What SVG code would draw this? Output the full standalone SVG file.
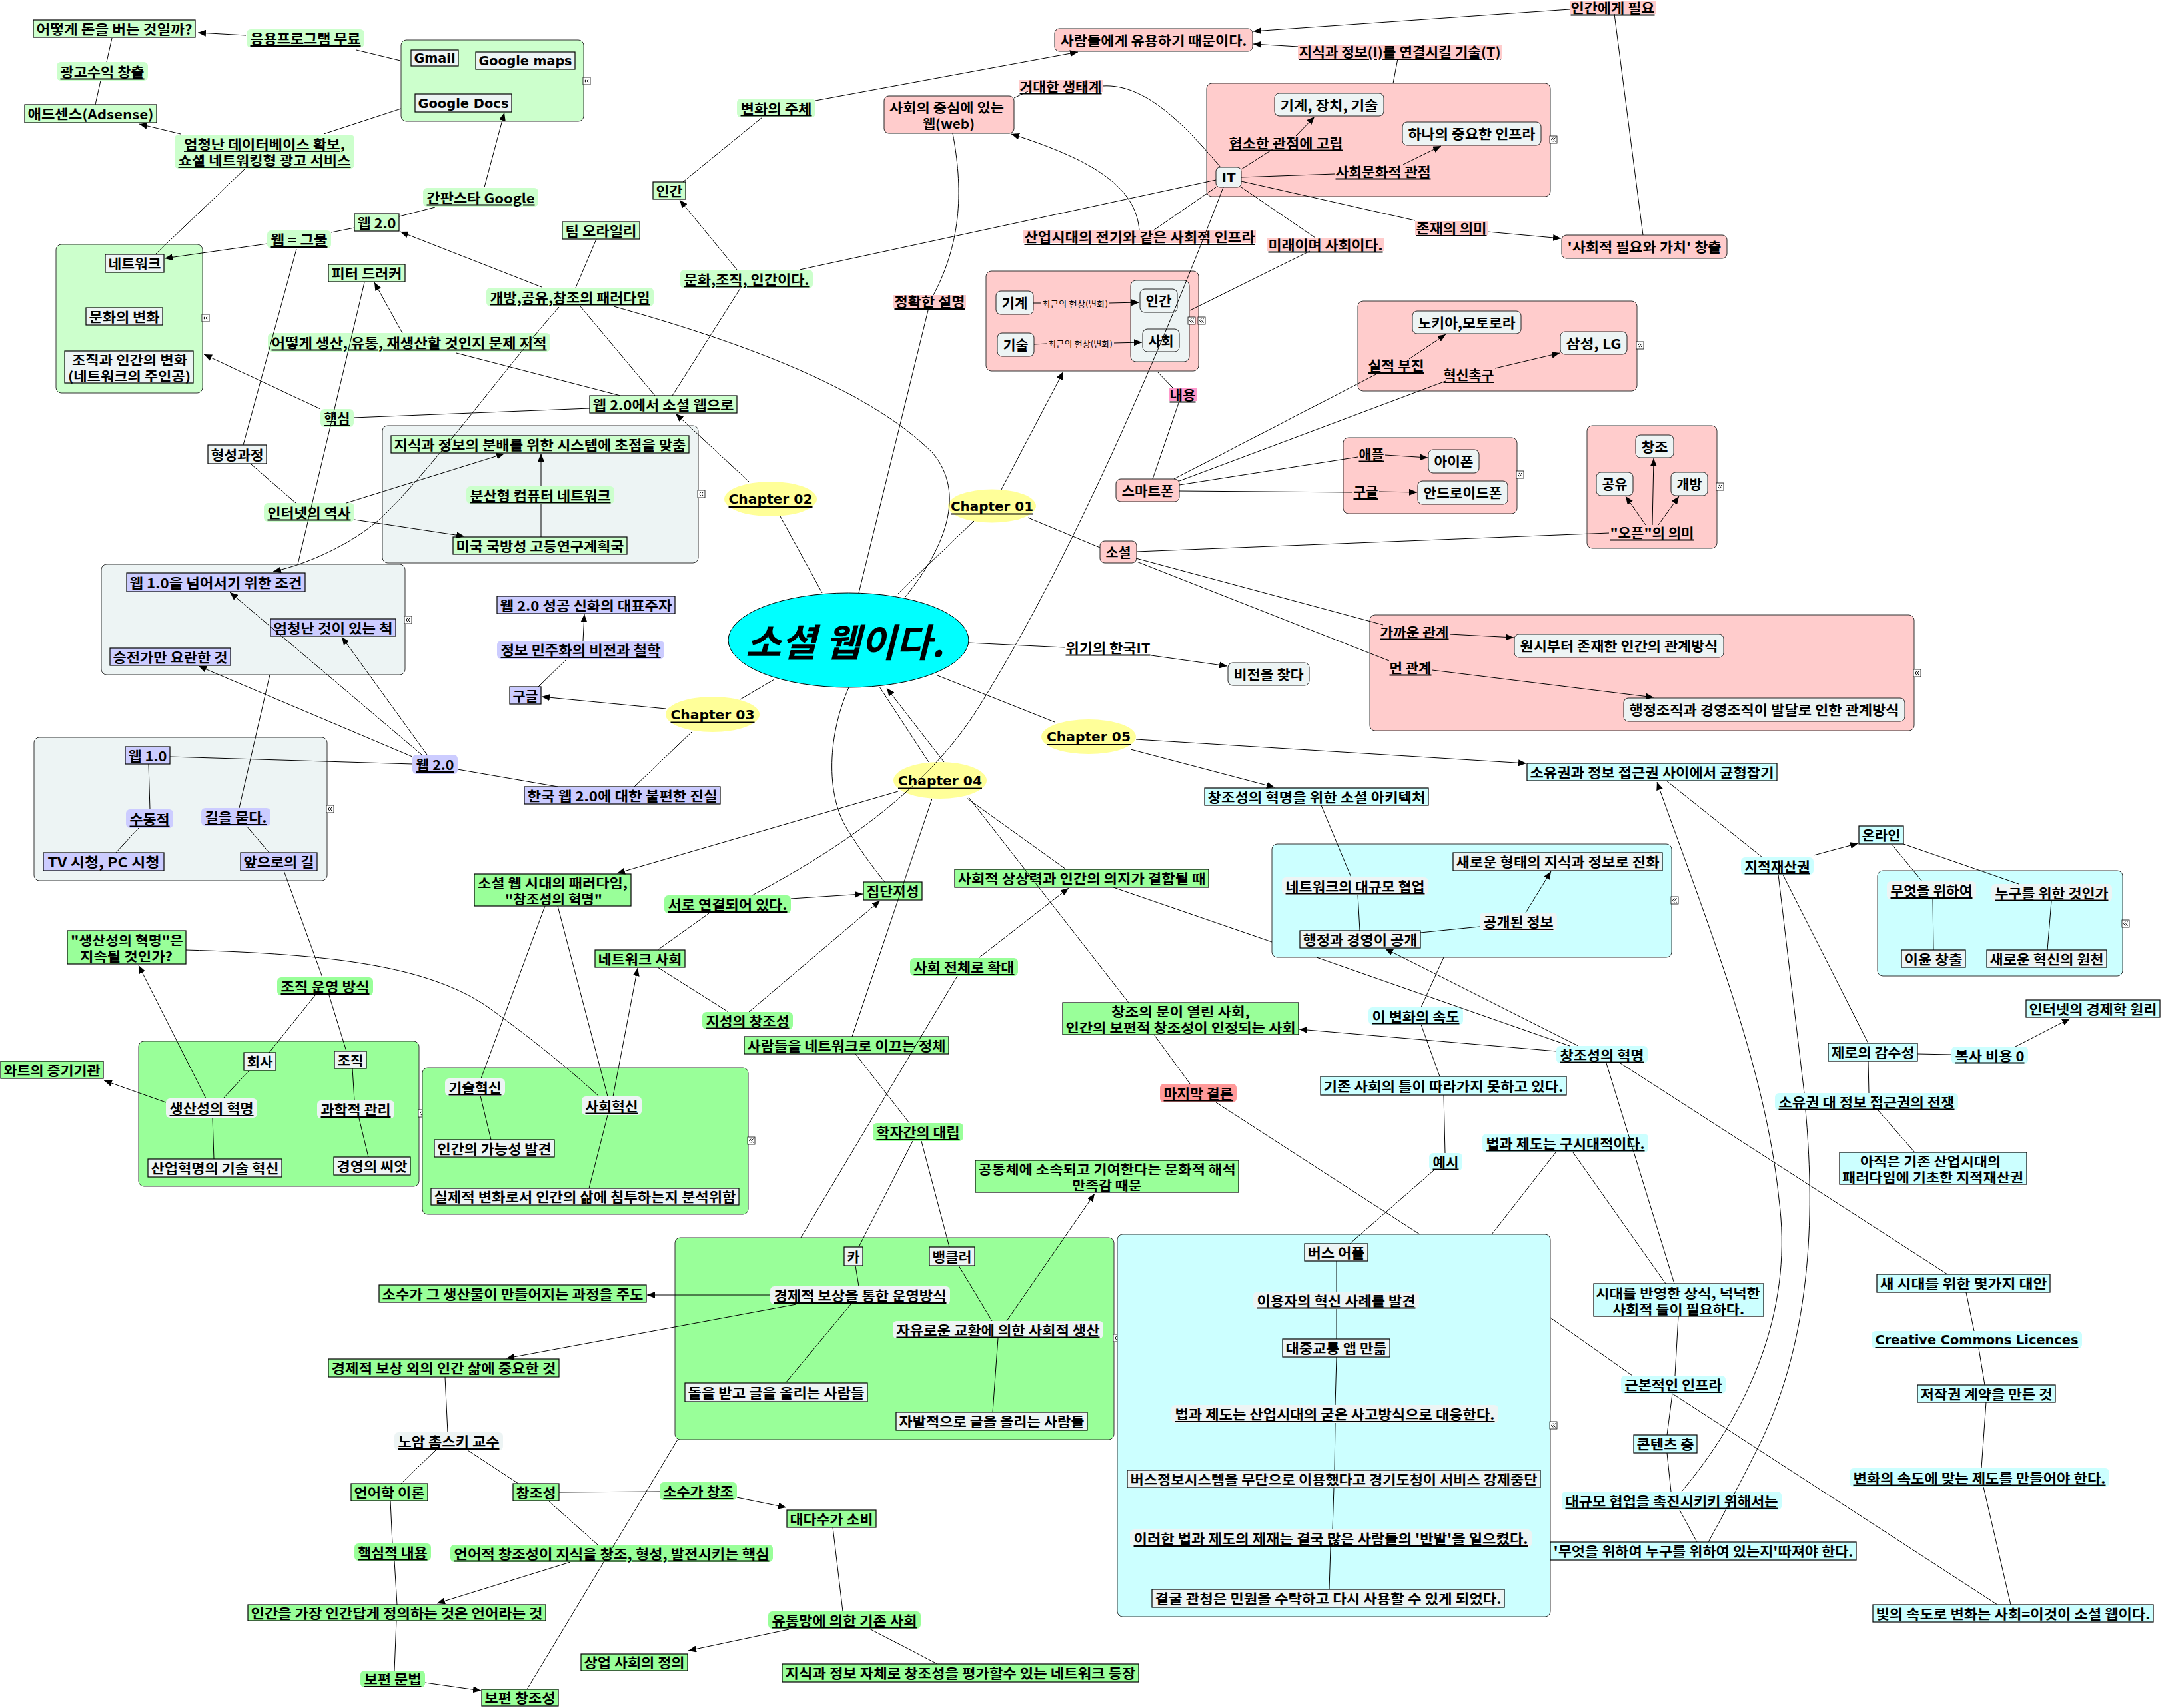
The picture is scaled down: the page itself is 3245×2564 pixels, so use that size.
<svg xmlns="http://www.w3.org/2000/svg" width="3245" height="2564" viewBox="0 0 3245 2564">
<style>
text{font-family:"Noto Sans CJK KR","Noto Sans CJK JP",sans-serif;font-weight:700;font-size:20px;fill:#000;text-anchor:middle;dominant-baseline:central}
.u{text-decoration:underline}
.lat{font-family:"DejaVu Sans","Noto Sans CJK KR",sans-serif}
.sm{font-size:13px;font-weight:400}
.big{font-size:58px;font-style:italic}
.two{font-size:19px}
.bx{stroke:#000;stroke-width:1.2}
.rb{stroke:#222;stroke-width:1}
.grp{stroke:#333;stroke-width:1}
.g1{fill:#ccffcc}.pa{fill:#edf4f4}.lv{fill:#ccccff}.g2{fill:#99ff99}.cy{fill:#ccffff}.pk{fill:#ffcccc}.wh{fill:#fff}.mg{fill:#ff99cc}.rd{fill:#ff9999}.yl{fill:#ffff99}
#connectors path{fill:none;stroke:#000;stroke-width:1}
</style>
<defs>
<marker id="ah" markerUnits="userSpaceOnUse" viewBox="0 0 12 10" refX="12" refY="5" markerWidth="12" markerHeight="10" orient="auto"><path d="M0,0L12,5L0,10z" fill="#000"/></marker>
<g id="col"><rect width="11" height="11" fill="#fff" stroke="#000" stroke-width="0.8"/><path d="M5.2,2.5L2.5,5.5L5.2,8.5M8.5,2.5L5.8,5.5L8.5,8.5" fill="none" stroke="#000" stroke-width="1"/></g>
</defs>
<rect width="3245" height="2564" fill="#fff"/>

<g id="nodes">
<g id="n_money"><rect class="bx g1" x="50" y="30" width="243" height="26"/><text x="171.5" y="43" textLength="234" lengthAdjust="spacingAndGlyphs">어떻게 돈을 버는 것일까?</text></g>
<g id="n_free"><rect class="g1" x="370" y="44" width="177" height="27" rx="6"/><text class="u" x="458.5" y="57.5" textLength="166" lengthAdjust="spacingAndGlyphs">응용프로그램 무료</text></g>
<g id="n_adrev"><rect class="g1" x="85" y="93" width="137" height="28" rx="6"/><text class="u" x="153.5" y="107" textLength="126" lengthAdjust="spacingAndGlyphs">광고수익 창출</text></g>
<g id="n_adsense"><rect class="bx g1" x="37" y="157" width="198" height="27"/><text x="136" y="170.5" textLength="189" lengthAdjust="spacingAndGlyphs">애드센스(Adsense)</text></g>
<g id="n_db"><rect class="g1" x="262" y="202" width="270" height="51" rx="6"/><text class="u two" x="397" y="215.5" textLength="242" lengthAdjust="spacingAndGlyphs">엄청난 데이터베이스 확보,</text><text class="u two" x="397" y="239.5" textLength="259" lengthAdjust="spacingAndGlyphs">쇼셜 네트워킹형 광고 서비스</text></g>
<g id="g_google"><rect class="grp g1" x="602" y="60" width="274" height="122" rx="8"/>
<g id="n_gmail"><rect class="bx pa" x="617" y="75" width="71" height="24"/><text class="lat" x="652.5" y="87" textLength="62" lengthAdjust="spacingAndGlyphs">Gmail</text></g>
<g id="n_gmaps"><rect class="bx pa" x="714" y="78" width="149" height="26"/><text class="lat" x="788.5" y="91" textLength="140" lengthAdjust="spacingAndGlyphs">Google maps</text></g>
<g id="n_gdocs"><rect class="bx pa" x="623" y="141" width="145" height="27"/><text class="lat" x="695.5" y="154.5" textLength="136" lengthAdjust="spacingAndGlyphs">Google Docs</text></g>
<use href="#col" x="875" y="116"/></g>
<g id="n_star"><rect class="g1" x="635" y="282" width="173" height="28" rx="6"/><text class="u" x="721.5" y="296" textLength="162" lengthAdjust="spacingAndGlyphs">간판스타 Google</text></g>
<g id="n_web20a"><rect class="bx g1" x="532" y="321" width="67" height="26"/><text x="565.5" y="334" textLength="58" lengthAdjust="spacingAndGlyphs">웹 2.0</text></g>
<g id="n_webnet"><rect class="g1" x="401" y="346" width="96" height="27" rx="6"/><text class="u" x="449" y="359.5" textLength="85" lengthAdjust="spacingAndGlyphs">웹 = 그물</text></g>
<g id="g_net"><rect class="grp g1" x="84" y="367" width="220" height="223" rx="8"/>
<g id="n_net"><rect class="bx pa" x="158" y="382" width="88" height="27"/><text x="202" y="395.5" textLength="79" lengthAdjust="spacingAndGlyphs">네트워크</text></g>
<g id="n_cultchg"><rect class="bx pa" x="129" y="462" width="115" height="26"/><text x="186.5" y="475" textLength="106" lengthAdjust="spacingAndGlyphs">문화의 변화</text></g>
<g id="n_orghum"><rect class="bx pa" x="97" y="527" width="193" height="48"/><text class="two" x="194.5" y="539" textLength="173" lengthAdjust="spacingAndGlyphs">조직과 인간의 변화</text><text class="two" x="194" y="563" textLength="184" lengthAdjust="spacingAndGlyphs">(네트워크의 주인공)</text></g>
<use href="#col" x="303" y="472"/></g>
<g id="n_drucker"><rect class="bx g1" x="493" y="397" width="115" height="26"/><text x="550.5" y="410" textLength="106" lengthAdjust="spacingAndGlyphs">피터 드러커</text></g>
<g id="n_how"><rect class="g1" x="402" y="500" width="424" height="28" rx="6"/><text class="u" x="614" y="514" textLength="413" lengthAdjust="spacingAndGlyphs">어떻게 생산, 유통, 재생산할 것인지 문제 지적</text></g>
<g id="n_core"><rect class="g1" x="481" y="614" width="50" height="27" rx="6"/><text class="u" x="506" y="627.5" textLength="39" lengthAdjust="spacingAndGlyphs">핵심</text></g>
<g id="n_form"><rect class="bx pa" x="312" y="668" width="88" height="28"/><text x="356" y="682" textLength="79" lengthAdjust="spacingAndGlyphs">형성과정</text></g>
<g id="n_inet"><rect class="g1" x="396" y="755" width="136" height="28" rx="6"/><text class="u" x="464" y="769" textLength="125" lengthAdjust="spacingAndGlyphs">인터넷의 역사</text></g>
<g id="g_dist"><rect class="grp pa" x="574" y="639" width="474" height="206" rx="8"/>
<g id="n_sys"><rect class="bx g1" x="587" y="654" width="447" height="26"/><text x="810.5" y="667" textLength="438" lengthAdjust="spacingAndGlyphs">지식과 정보의 분배를 위한 시스템에 초점을 맞춤</text></g>
<g id="n_distnet"><rect class="g1" x="700" y="730" width="222" height="26" rx="6"/><text class="u" x="811" y="743" textLength="211" lengthAdjust="spacingAndGlyphs">분산형 컴퓨터 네트워크</text></g>
<g id="n_darpa"><rect class="bx g1" x="680" y="806" width="261" height="26"/><text x="810.5" y="819" textLength="252" lengthAdjust="spacingAndGlyphs">미국 국방성 고등연구계획국</text></g>
<use href="#col" x="1047" y="736"/></g>
<g id="n_oreilly"><rect class="bx g1" x="844" y="333" width="116" height="26"/><text x="902" y="346" textLength="107" lengthAdjust="spacingAndGlyphs">팀 오라일리</text></g>
<g id="n_open"><rect class="g1" x="730" y="432" width="251" height="28" rx="6"/><text class="u" x="855.5" y="446" textLength="240" lengthAdjust="spacingAndGlyphs">개방,공유,창조의 패러다임</text></g>
<g id="n_w2s"><rect class="bx g1" x="885" y="594" width="221" height="26"/><text x="995.5" y="607" textLength="212" lengthAdjust="spacingAndGlyphs">웹 2.0에서 소셜 웹으로</text></g>
<g id="n_human"><rect class="bx g1" x="980" y="273" width="49" height="26"/><text x="1004.5" y="286" textLength="40" lengthAdjust="spacingAndGlyphs">인간</text></g>
<g id="n_agent"><rect class="g1" x="1106" y="148" width="118" height="28" rx="6"/><text class="u" x="1165" y="162" textLength="107" lengthAdjust="spacingAndGlyphs">변화의 주체</text></g>
<g id="n_culture"><rect class="g1" x="1021" y="405" width="199" height="28" rx="6"/><text class="u" x="1120.5" y="419" textLength="188" lengthAdjust="spacingAndGlyphs">문화,조직, 인간이다.</text></g>
<g id="ch02"><ellipse class="yl" cx="1156.5" cy="749" rx="69.5" ry="26"/><text class="u lat" x="1156.5" y="749" textLength="126" lengthAdjust="spacingAndGlyphs">Chapter 02</text></g>

<g id="n_useful"><rect class="rb pk" x="1583" y="43" width="297" height="34" rx="7"/><text x="1731.5" y="60" textLength="280" lengthAdjust="spacingAndGlyphs">사람들에게 유용하기 때문이다.</text></g>
<g id="n_needed"><rect class="pk" x="2356" y="1" width="129" height="20"/><text class="u" x="2420.5" y="11" textLength="126" lengthAdjust="spacingAndGlyphs">인간에게 필요</text></g>
<g id="n_connect"><rect class="pk" x="1948" y="67" width="306" height="21"/><text class="u" x="2101" y="77.5" textLength="303" lengthAdjust="spacingAndGlyphs">지식과 정보(I)를 연결시킬 기술(T)</text></g>
<g id="n_centerweb"><rect class="rb pk" x="1327" y="144" width="195" height="56" rx="7"/><text class="two" x="1421" y="160" textLength="172" lengthAdjust="spacingAndGlyphs">사회의 중심에 있는</text><text class="two" x="1424" y="184" textLength="78" lengthAdjust="spacingAndGlyphs">웹(web)</text></g>
<g id="n_eco"><rect class="pk" x="1529" y="120" width="126" height="18"/><text class="u" x="1592" y="129" textLength="123" lengthAdjust="spacingAndGlyphs">거대한 생태계</text></g>
<g id="g_it"><rect class="grp pk" x="1811" y="125" width="516" height="170" rx="8"/>
<g id="n_mach3"><rect class="rb pa" x="1913" y="140" width="164" height="34" rx="7"/><text x="1995" y="157" textLength="147" lengthAdjust="spacingAndGlyphs">기계, 장치, 기술</text></g>
<g id="n_oneinfra"><rect class="rb pa" x="2105" y="183" width="208" height="35" rx="7"/><text x="2209" y="200.5" textLength="191" lengthAdjust="spacingAndGlyphs">하나의 중요한 인프라</text></g>
<g id="n_narrow"><text class="u" x="1930" y="214" textLength="171" lengthAdjust="spacingAndGlyphs">협소한 관점에 고립</text></g>
<g id="n_sociocult"><text class="u" x="2076" y="257" textLength="143" lengthAdjust="spacingAndGlyphs">사회문화적 관점</text></g>
<g id="n_it"><rect class="rb pa" x="1825" y="251" width="38" height="30" rx="6"/><text class="lat" x="1844" y="266" textLength="21" lengthAdjust="spacingAndGlyphs">IT</text></g>
<use href="#col" x="2326" y="204"/></g>
<g id="n_exist"><rect class="pk" x="2124" y="332" width="109" height="21"/><text class="u" x="2178.5" y="342.5" textLength="106" lengthAdjust="spacingAndGlyphs">존재의 의미</text></g>
<g id="n_socval"><rect class="rb pk" x="2344" y="353" width="248" height="35" rx="7"/><text x="2468" y="370.5" textLength="231" lengthAdjust="spacingAndGlyphs">'사회적 필요와 가치' 창출</text></g>
<g id="n_future"><rect class="pk" x="1902" y="357" width="175" height="20"/><text class="u" x="1989.5" y="367" textLength="172" lengthAdjust="spacingAndGlyphs">미래이며 사회이다.</text></g>
<g id="n_infra"><rect class="pk" x="1536" y="346" width="349" height="19"/><text class="u" x="1710.5" y="355.5" textLength="346" lengthAdjust="spacingAndGlyphs">산업시대의 전기와 같은 사회적 인프라</text></g>
<g id="n_exact"><rect class="pk" x="1341" y="443" width="109" height="19"/><text class="u" x="1395.5" y="452.5" textLength="106" lengthAdjust="spacingAndGlyphs">정확한 설명</text></g>
<g id="g_machine"><rect class="grp pk" x="1480" y="407" width="319" height="150" rx="8"/>
<rect class="grp pa" x="1697" y="421" width="88" height="122" rx="8"/>
<g id="n_machine"><rect class="rb pa" x="1495" y="437" width="56" height="35" rx="7"/><text x="1523" y="454.5" textLength="39" lengthAdjust="spacingAndGlyphs">기계</text></g>
<g id="n_tech"><rect class="rb pa" x="1497" y="500" width="55" height="35" rx="7"/><text x="1524.5" y="517.5" textLength="38" lengthAdjust="spacingAndGlyphs">기술</text></g>
<g id="n_human2"><rect class="rb pa" x="1711" y="434" width="56" height="35" rx="7"/><text x="1739" y="451.5" textLength="39" lengthAdjust="spacingAndGlyphs">인간</text></g>
<g id="n_society"><rect class="rb pa" x="1715" y="494" width="55" height="34" rx="7"/><text x="1742.5" y="511" textLength="38" lengthAdjust="spacingAndGlyphs">사회</text></g>
<text class="sm" x="1613.5" y="455" textLength="99" lengthAdjust="spacingAndGlyphs">최근의 현상(변화)</text>
<text class="sm" x="1621.5" y="515" textLength="97" lengthAdjust="spacingAndGlyphs">최근의 현상(변화)</text>
<use href="#col" x="1783" y="476"/><use href="#col" x="1798" y="476"/></g>
<g id="n_content"><rect class="mg" x="1754" y="582" width="42" height="20"/><text class="u" x="1775" y="592" textLength="39" lengthAdjust="spacingAndGlyphs">내용</text></g>
<g id="ch01"><ellipse class="yl" cx="1489" cy="759.5" rx="66" ry="25"/><text class="u lat" x="1489" y="759.5" textLength="124" lengthAdjust="spacingAndGlyphs">Chapter 01</text></g>
<g id="g_nokia"><rect class="grp pk" x="2038" y="452" width="419" height="135" rx="8"/>
<g id="n_nokia"><rect class="rb pa" x="2120" y="467" width="163" height="34" rx="7"/><text x="2201.5" y="484" textLength="146" lengthAdjust="spacingAndGlyphs">노키아,모토로라</text></g>
<g id="n_samsung"><rect class="rb pa" x="2342" y="498" width="100" height="34" rx="7"/><text x="2392" y="515" textLength="83" lengthAdjust="spacingAndGlyphs">삼성, LG</text></g>
<g id="n_perf"><text class="u" x="2095.5" y="548.5" textLength="84" lengthAdjust="spacingAndGlyphs">실적 부진</text></g>
<g id="n_urge"><text class="u" x="2204.5" y="562.5" textLength="76" lengthAdjust="spacingAndGlyphs">혁신촉구</text></g>
<use href="#col" x="2456" y="513"/></g>
<g id="n_smart"><rect class="rb pk" x="1675" y="719" width="95" height="34" rx="7"/><text x="1722.5" y="736" textLength="78" lengthAdjust="spacingAndGlyphs">스마트폰</text></g>
<g id="g_apple"><rect class="grp pk" x="2016" y="657" width="261" height="114" rx="8"/>
<g id="n_apple"><text class="u" x="2058.5" y="681" textLength="38" lengthAdjust="spacingAndGlyphs">애플</text></g>
<g id="n_iphone"><rect class="rb pa" x="2144" y="675" width="76" height="35" rx="7"/><text x="2182" y="692.5" textLength="59" lengthAdjust="spacingAndGlyphs">아이폰</text></g>
<g id="n_googleL"><text class="u" x="2050" y="737.5" textLength="37" lengthAdjust="spacingAndGlyphs">구글</text></g>
<g id="n_android"><rect class="rb pa" x="2128" y="722" width="135" height="35" rx="7"/><text x="2195.5" y="739.5" textLength="118" lengthAdjust="spacingAndGlyphs">안드로이드폰</text></g>
<use href="#col" x="2276" y="707"/></g>
<g id="g_open"><rect class="grp pk" x="2382" y="639" width="195" height="184" rx="8"/>
<g id="n_create"><rect class="rb pa" x="2455" y="653" width="57" height="34" rx="7"/><text x="2483.5" y="670" textLength="40" lengthAdjust="spacingAndGlyphs">창조</text></g>
<g id="n_share"><rect class="rb pa" x="2396" y="709" width="55" height="35" rx="7"/><text x="2423.5" y="726.5" textLength="38" lengthAdjust="spacingAndGlyphs">공유</text></g>
<g id="n_openn"><rect class="rb pa" x="2508" y="709" width="55" height="35" rx="7"/><text x="2535.5" y="726.5" textLength="38" lengthAdjust="spacingAndGlyphs">개방</text></g>
<g id="n_meaning"><text class="u" x="2479.5" y="799" textLength="126" lengthAdjust="spacingAndGlyphs">"오픈"의 의미</text></g>
<use href="#col" x="2576" y="725"/></g>
<g id="n_social"><rect class="rb pk" x="1651" y="812" width="55" height="33" rx="7"/><text x="1678.5" y="828.5" textLength="38" lengthAdjust="spacingAndGlyphs">소셜</text></g>
<g id="g_rel"><rect class="grp pk" x="2056" y="923" width="817" height="174" rx="8"/>
<g id="n_close"><text class="u" x="2123" y="948" textLength="103" lengthAdjust="spacingAndGlyphs">가까운 관계</text></g>
<g id="n_far"><text class="u" x="2117" y="1002" textLength="63" lengthAdjust="spacingAndGlyphs">먼 관계</text></g>
<g id="n_primitive"><rect class="rb pa" x="2273" y="952" width="314" height="35" rx="7"/><text x="2430" y="969.5" textLength="297" lengthAdjust="spacingAndGlyphs">원시부터 존재한 인간의 관계방식</text></g>
<g id="n_admin"><rect class="rb pa" x="2437" y="1048" width="422" height="35" rx="7"/><text x="2648" y="1065.5" textLength="405" lengthAdjust="spacingAndGlyphs">행정조직과 경영조직이 발달로 인한 관계방식</text></g>
<use href="#col" x="2872" y="1005"/></g>
<g id="n_crisis"><text class="u" x="1663" y="972" textLength="127" lengthAdjust="spacingAndGlyphs">위기의 한국IT</text></g>
<g id="n_vision"><rect class="rb pa" x="1843" y="995" width="122" height="34" rx="7"/><text x="1904" y="1012" textLength="105" lengthAdjust="spacingAndGlyphs">비전을 찾다</text></g>

<g id="center"><ellipse cx="1273.5" cy="961" rx="180.5" ry="71" fill="#00ffff" stroke="#000" stroke-width="1"/><text class="big" x="1268" y="961" textLength="298" lengthAdjust="spacingAndGlyphs">소셜 웹이다.</text></g>

<g id="g_beyond"><rect class="grp pa" x="152" y="847" width="456" height="166" rx="8"/>
<g id="n_cond"><rect class="bx lv" x="190" y="860" width="268" height="28"/><text x="324" y="874" textLength="259" lengthAdjust="spacingAndGlyphs">웹 1.0을 넘어서기 위한 조건</text></g>
<g id="n_pretend"><rect class="bx lv" x="406" y="929" width="188" height="26"/><text x="500" y="942" textLength="179" lengthAdjust="spacingAndGlyphs">엄청난 것이 있는 척</text></g>
<g id="n_noisy"><rect class="bx lv" x="165" y="973" width="181" height="26"/><text x="255.5" y="986" textLength="172" lengthAdjust="spacingAndGlyphs">승전가만 요란한 것</text></g>
<use href="#col" x="607" y="925"/></g>
<g id="n_success"><rect class="bx lv" x="746" y="895" width="267" height="26"/><text x="879.5" y="908" textLength="258" lengthAdjust="spacingAndGlyphs">웹 2.0 성공 신화의 대표주자</text></g>
<g id="n_demo"><rect class="lv" x="746" y="962" width="251" height="27" rx="6"/><text class="u" x="871.5" y="975.5" textLength="240" lengthAdjust="spacingAndGlyphs">정보 민주화의 비전과 철학</text></g>
<g id="n_google2"><rect class="bx lv" x="765" y="1031" width="47" height="26"/><text x="788.5" y="1044" textLength="38" lengthAdjust="spacingAndGlyphs">구글</text></g>
<g id="ch03"><ellipse class="yl" cx="1069.5" cy="1072.5" rx="70.5" ry="26.5"/><text class="u lat" x="1069.5" y="1072.5" textLength="126" lengthAdjust="spacingAndGlyphs">Chapter 03</text></g>
<g id="n_web20b"><rect class="lv" x="619" y="1133" width="68" height="29" rx="6"/><text class="u" x="653" y="1147.5" textLength="57" lengthAdjust="spacingAndGlyphs">웹 2.0</text></g>
<g id="n_korea"><rect class="bx lv" x="787" y="1181" width="294" height="26"/><text x="934" y="1194" textLength="285" lengthAdjust="spacingAndGlyphs">한국 웹 2.0에 대한 불편한 진실</text></g>
<g id="g_web10"><rect class="grp pa" x="51" y="1107" width="440" height="215" rx="8"/>
<g id="n_w10"><rect class="bx lv" x="188" y="1121" width="67" height="26"/><text x="221.5" y="1134" textLength="58" lengthAdjust="spacingAndGlyphs">웹 1.0</text></g>
<g id="n_passive"><rect class="lv" x="189" y="1215" width="71" height="28" rx="6"/><text class="u" x="224.5" y="1229" textLength="60" lengthAdjust="spacingAndGlyphs">수동적</text></g>
<g id="n_ask"><rect class="lv" x="302" y="1213" width="104" height="27" rx="6"/><text class="u" x="354" y="1226.5" textLength="93" lengthAdjust="spacingAndGlyphs">길을 묻다.</text></g>
<g id="n_tv"><rect class="bx lv" x="65" y="1280" width="181" height="27"/><text x="155.5" y="1293.5" textLength="168" lengthAdjust="spacingAndGlyphs">TV 시청, PC 시청</text></g>
<g id="n_road"><rect class="bx lv" x="361" y="1280" width="115" height="27"/><text x="418.5" y="1293.5" textLength="106" lengthAdjust="spacingAndGlyphs">앞으로의 길</text></g>
<use href="#col" x="490" y="1209"/></g>

<g id="n_prodq"><rect class="bx g2" x="101" y="1397" width="178" height="50"/><text class="two" x="190.5" y="1410" textLength="169" lengthAdjust="spacingAndGlyphs">"생산성의 혁명"은</text><text class="two" x="189.5" y="1434" textLength="139" lengthAdjust="spacingAndGlyphs">지속될 것인가?</text></g>
<g id="n_orgway"><rect class="g2" x="416" y="1467" width="144" height="27" rx="6"/><text class="u" x="488" y="1480.5" textLength="133" lengthAdjust="spacingAndGlyphs">조직 운영 방식</text></g>
<g id="n_watt"><rect class="bx g2" x="1" y="1593" width="154" height="26"/><text x="78" y="1606" textLength="145" lengthAdjust="spacingAndGlyphs">와트의 증기기관</text></g>
<g id="g_prod"><rect class="grp g2" x="208" y="1563" width="421" height="218" rx="8"/>
<g id="n_company"><rect class="bx pa" x="366" y="1580" width="48" height="27"/><text x="390" y="1593.5" textLength="39" lengthAdjust="spacingAndGlyphs">회사</text></g>
<g id="n_org"><rect class="bx pa" x="502" y="1578" width="48" height="26"/><text x="526" y="1591" textLength="39" lengthAdjust="spacingAndGlyphs">조직</text></g>
<g id="n_prodrev"><rect class="pa" x="249" y="1649" width="137" height="29" rx="6"/><text class="u" x="317.5" y="1663.5" textLength="126" lengthAdjust="spacingAndGlyphs">생산성의 혁명</text></g>
<g id="n_sci"><rect class="pa" x="476" y="1652" width="116" height="27" rx="6"/><text class="u" x="534" y="1665.5" textLength="105" lengthAdjust="spacingAndGlyphs">과학적 관리</text></g>
<g id="n_indrev"><rect class="bx pa" x="222" y="1740" width="201" height="27"/><text x="322.5" y="1753.5" textLength="192" lengthAdjust="spacingAndGlyphs">산업혁명의 기술 혁신</text></g>
<g id="n_mgmt"><rect class="bx pa" x="501" y="1737" width="115" height="27"/><text x="558.5" y="1750.5" textLength="106" lengthAdjust="spacingAndGlyphs">경영의 씨앗</text></g>
<use href="#col" x="628" y="1666"/></g>
<g id="n_paradigm"><rect class="bx g2" x="712" y="1312" width="235" height="48"/><text class="two" x="829.5" y="1324" textLength="225" lengthAdjust="spacingAndGlyphs">소셜 웹 시대의 패러다임,</text><text class="two" x="831" y="1348" textLength="146" lengthAdjust="spacingAndGlyphs">"창조성의 혁명"</text></g>
<g id="g_innov"><rect class="grp g2" x="634" y="1603" width="489" height="220" rx="8"/>
<g id="n_techinno"><rect class="pa" x="668" y="1619" width="90" height="26" rx="6"/><text class="u" x="713" y="1632" textLength="79" lengthAdjust="spacingAndGlyphs">기술혁신</text></g>
<g id="n_socinno"><rect class="pa" x="873" y="1646" width="90" height="28" rx="6"/><text class="u" x="918" y="1660" textLength="79" lengthAdjust="spacingAndGlyphs">사회혁신</text></g>
<g id="n_possib"><rect class="bx pa" x="652" y="1711" width="180" height="26"/><text x="742" y="1724" textLength="171" lengthAdjust="spacingAndGlyphs">인간의 가능성 발견</text></g>
<g id="n_actual"><rect class="bx pa" x="647" y="1784" width="462" height="25"/><text x="878" y="1796.5" textLength="453" lengthAdjust="spacingAndGlyphs">실제적 변화로서 인간의 삶에 침투하는지 분석위함</text></g>
<use href="#col" x="1122" y="1707"/></g>
<g id="n_connected"><rect class="g2" x="997" y="1344" width="190" height="27" rx="6"/><text class="u" x="1092" y="1357.5" textLength="179" lengthAdjust="spacingAndGlyphs">서로 연결되어 있다.</text></g>
<g id="n_collective"><rect class="bx g2" x="1296" y="1324" width="88" height="27"/><text x="1340" y="1337.5" textLength="79" lengthAdjust="spacingAndGlyphs">집단지성</text></g>
<g id="n_netsoc"><rect class="bx g2" x="893" y="1426" width="135" height="26"/><text x="960.5" y="1439" textLength="126" lengthAdjust="spacingAndGlyphs">네트워크 사회</text></g>
<g id="n_intcreat"><rect class="g2" x="1054" y="1519" width="136" height="26" rx="6"/><text class="u" x="1122" y="1532" textLength="125" lengthAdjust="spacingAndGlyphs">지성의 창조성</text></g>
<g id="n_people"><rect class="bx g2" x="1117" y="1556" width="307" height="26"/><text x="1270.5" y="1569" textLength="298" lengthAdjust="spacingAndGlyphs">사람들을 네트워크로 이끄는 정체</text></g>
<g id="ch04"><ellipse class="yl" cx="1411" cy="1171.5" rx="70" ry="27.5"/><text class="u lat" x="1411" y="1171.5" textLength="126" lengthAdjust="spacingAndGlyphs">Chapter 04</text></g>
<g id="n_imag"><rect class="bx g2" x="1433" y="1305" width="381" height="27"/><text x="1623.5" y="1318.5" textLength="372" lengthAdjust="spacingAndGlyphs">사회적 상상력과 인간의 의지가 결합될 때</text></g>
<g id="n_expand"><rect class="g2" x="1366" y="1438" width="162" height="27" rx="6"/><text class="u" x="1447" y="1451.5" textLength="151" lengthAdjust="spacingAndGlyphs">사회 전체로 확대</text></g>
<g id="n_opendoor"><rect class="bx g2" x="1595" y="1505" width="354" height="48"/><text class="two" x="1772" y="1517" textLength="208" lengthAdjust="spacingAndGlyphs">창조의 문이 열린 사회,</text><text class="two" x="1772" y="1541" textLength="345" lengthAdjust="spacingAndGlyphs">인간의 보편적 창조성이 인정되는 사회</text></g>
<g id="n_final"><rect class="rd" x="1741" y="1627" width="115" height="28" rx="6"/><text class="u" x="1798.5" y="1641" textLength="104" lengthAdjust="spacingAndGlyphs">마지막 결론</text></g>
<g id="n_scholars"><rect class="g2" x="1310" y="1686" width="136" height="27" rx="6"/><text class="u" x="1378" y="1699.5" textLength="125" lengthAdjust="spacingAndGlyphs">학자간의 대립</text></g>
<g id="n_community"><rect class="bx g2" x="1464" y="1742" width="395" height="48"/><text class="two" x="1661.5" y="1754" textLength="386" lengthAdjust="spacingAndGlyphs">공동체에 소속되고 기여한다는 문화적 해석</text><text class="two" x="1661.5" y="1778" textLength="104" lengthAdjust="spacingAndGlyphs">만족감 때문</text></g>
<g id="g_econ"><rect class="grp g2" x="1013" y="1858" width="659" height="303" rx="8"/>
<g id="n_car"><rect class="bx pa" x="1267" y="1872" width="28" height="28"/><text x="1281" y="1886" textLength="19" lengthAdjust="spacingAndGlyphs">카</text></g>
<g id="n_benkler"><rect class="bx pa" x="1395" y="1872" width="68" height="28"/><text x="1429" y="1886" textLength="59" lengthAdjust="spacingAndGlyphs">뱅클러</text></g>
<g id="n_econway"><rect class="pa" x="1156" y="1931" width="270" height="27" rx="6"/><text class="u" x="1291" y="1944.5" textLength="259" lengthAdjust="spacingAndGlyphs">경제적 보상을 통한 운영방식</text></g>
<g id="n_freeex"><rect class="pa" x="1340" y="1983" width="316" height="26" rx="6"/><text class="u" x="1498" y="1996" textLength="305" lengthAdjust="spacingAndGlyphs">자유로운 교환에 의한 사회적 생산</text></g>
<g id="n_paidpost"><rect class="bx pa" x="1028" y="2076" width="274" height="28"/><text x="1165" y="2090" textLength="265" lengthAdjust="spacingAndGlyphs">돌을 받고 글을 올리는 사람들</text></g>
<g id="n_volpost"><rect class="bx pa" x="1345" y="2120" width="287" height="27"/><text x="1488.5" y="2133.5" textLength="278" lengthAdjust="spacingAndGlyphs">자발적으로 글을 올리는 사람들</text></g>
<use href="#col" x="1671" y="2003"/></g>
<g id="n_few"><rect class="bx g2" x="569" y="1929" width="401" height="26"/><text x="769.5" y="1942" textLength="392" lengthAdjust="spacingAndGlyphs">소수가 그 생산물이 만들어지는 과정을 주도</text></g>
<g id="n_besides"><rect class="bx g2" x="493" y="2040" width="346" height="27"/><text x="666" y="2053.5" textLength="337" lengthAdjust="spacingAndGlyphs">경제적 보상 외의 인간 삶에 중요한 것</text></g>
<g id="n_chomsky"><rect class="pa" x="592" y="2150" width="163" height="27" rx="6"/><text class="u" x="673.5" y="2163.5" textLength="152" lengthAdjust="spacingAndGlyphs">노암 촘스키 교수</text></g>
<g id="n_ling"><rect class="bx g2" x="527" y="2227" width="115" height="26"/><text x="584.5" y="2240" textLength="106" lengthAdjust="spacingAndGlyphs">언어학 이론</text></g>
<g id="n_creat"><rect class="bx g2" x="770" y="2227" width="69" height="26"/><text x="804.5" y="2240" textLength="60" lengthAdjust="spacingAndGlyphs">창조성</text></g>
<g id="n_fewcreate"><rect class="g2" x="990" y="2225" width="116" height="27" rx="6"/><text class="u" x="1048" y="2238.5" textLength="105" lengthAdjust="spacingAndGlyphs">소수가 창조</text></g>
<g id="n_many"><rect class="bx g2" x="1181" y="2267" width="134" height="26"/><text x="1248" y="2280" textLength="125" lengthAdjust="spacingAndGlyphs">대다수가 소비</text></g>
<g id="n_core2"><rect class="g2" x="532" y="2317" width="115" height="26" rx="6"/><text class="u" x="589.5" y="2330" textLength="104" lengthAdjust="spacingAndGlyphs">핵심적 내용</text></g>
<g id="n_lingcreat"><rect class="g2" x="676" y="2319" width="484" height="26" rx="6"/><text class="u" x="918" y="2332" textLength="473" lengthAdjust="spacingAndGlyphs">언어적 창조성이 지식을 창조, 형성, 발전시키는 핵심</text></g>
<g id="n_define"><rect class="bx g2" x="372" y="2409" width="447" height="24"/><text x="595.5" y="2421" textLength="438" lengthAdjust="spacingAndGlyphs">인간을 가장 인간답게 정의하는 것은 언어라는 것</text></g>
<g id="n_distrib"><rect class="g2" x="1153" y="2419" width="229" height="26" rx="6"/><text class="u" x="1267.5" y="2432" textLength="218" lengthAdjust="spacingAndGlyphs">유통망에 의한 기존 사회</text></g>
<g id="n_commerce"><rect class="bx g2" x="872" y="2483" width="160" height="25"/><text x="952" y="2495.5" textLength="151" lengthAdjust="spacingAndGlyphs">상업 사회의 정의</text></g>
<g id="n_knownet"><rect class="bx g2" x="1174" y="2498" width="535" height="27"/><text x="1441.5" y="2511.5" textLength="526" lengthAdjust="spacingAndGlyphs">지식과 정보 자체로 창조성을 평가할수 있는 네트워크 등장</text></g>
<g id="n_ugram"><rect class="g2" x="541" y="2508" width="97" height="25" rx="6"/><text class="u" x="589.5" y="2520.5" textLength="86" lengthAdjust="spacingAndGlyphs">보편 문법</text></g>
<g id="n_ucreat"><rect class="bx g2" x="723" y="2536" width="115" height="25"/><text x="780.5" y="2548.5" textLength="106" lengthAdjust="spacingAndGlyphs">보편 창조성</text></g>

<g id="ch05"><ellipse class="yl" cx="1634" cy="1106" rx="71" ry="26"/><text class="u lat" x="1634" y="1106" textLength="126" lengthAdjust="spacingAndGlyphs">Chapter 05</text></g>
<g id="n_balance"><rect class="bx cy" x="2292" y="1146" width="375" height="26"/><text x="2479.5" y="1159" textLength="366" lengthAdjust="spacingAndGlyphs">소유권과 정보 접근권 사이에서 균형잡기</text></g>
<g id="n_arch"><rect class="bx cy" x="1808" y="1183" width="336" height="26"/><text x="1976" y="1196" textLength="327" lengthAdjust="spacingAndGlyphs">창조성의 혁명을 위한 소셜 아키텍처</text></g>
<g id="g_collab"><rect class="grp cy" x="1909" y="1267" width="600" height="170" rx="8"/>
<g id="n_newform"><rect class="bx pa" x="2181" y="1280" width="314" height="27"/><text x="2338" y="1293.5" textLength="305" lengthAdjust="spacingAndGlyphs">새로운 형태의 지식과 정보로 진화</text></g>
<g id="n_masscollab"><rect class="pa" x="1924" y="1317" width="220" height="26" rx="6"/><text class="u" x="2034" y="1330" textLength="209" lengthAdjust="spacingAndGlyphs">네트워크의 대규모 협업</text></g>
<g id="n_pubinfo"><rect class="pa" x="2221" y="1370" width="116" height="27" rx="6"/><text class="u" x="2279" y="1383.5" textLength="105" lengthAdjust="spacingAndGlyphs">공개된 정보</text></g>
<g id="n_adminopen"><rect class="bx pa" x="1951" y="1397" width="181" height="26"/><text x="2041.5" y="1410" textLength="172" lengthAdjust="spacingAndGlyphs">행정과 경영이 공개</text></g>
<use href="#col" x="2508" y="1346"/></g>
<g id="n_speed"><rect class="cy" x="2054" y="1512" width="142" height="26" rx="6"/><text class="u" x="2125" y="1525" textLength="131" lengthAdjust="spacingAndGlyphs">이 변화의 속도</text></g>
<g id="n_crev"><rect class="cy" x="2336" y="1570" width="137" height="26" rx="6"/><text class="u" x="2404.5" y="1583" textLength="126" lengthAdjust="spacingAndGlyphs">창조성의 혁명</text></g>
<g id="n_frame"><rect class="bx cy" x="1982" y="1616" width="369" height="28"/><text x="2166.5" y="1630" textLength="360" lengthAdjust="spacingAndGlyphs">기존 사회의 틀이 따라가지 못하고 있다.</text></g>
<g id="n_ip"><rect class="cy" x="2613" y="1287" width="109" height="26" rx="6"/><text class="u" x="2667.5" y="1300" textLength="98" lengthAdjust="spacingAndGlyphs">지적재산권</text></g>
<g id="n_online"><rect class="bx cy" x="2790" y="1240" width="67" height="27"/><text x="2823.5" y="1253.5" textLength="58" lengthAdjust="spacingAndGlyphs">온라인</text></g>
<g id="g_online"><rect class="grp cy" x="2818" y="1307" width="368" height="158" rx="8"/>
<g id="n_forwhat"><rect class="pa" x="2832" y="1323" width="134" height="27" rx="6"/><text class="u" x="2899" y="1336.5" textLength="123" lengthAdjust="spacingAndGlyphs">무엇을 위하여</text></g>
<g id="n_forwhom"><rect class="pa" x="2989" y="1327" width="181" height="26" rx="6"/><text class="u" x="3079.5" y="1340" textLength="170" lengthAdjust="spacingAndGlyphs">누구를 위한 것인가</text></g>
<g id="n_profit"><rect class="bx pa" x="2854" y="1426" width="96" height="26"/><text x="2902" y="1439" textLength="87" lengthAdjust="spacingAndGlyphs">이윤 창출</text></g>
<g id="n_newsrc"><rect class="bx pa" x="2982" y="1426" width="180" height="26"/><text x="3072" y="1439" textLength="171" lengthAdjust="spacingAndGlyphs">새로운 혁신의 원천</text></g>
<use href="#col" x="3185" y="1381"/></g>
<g id="n_econ"><rect class="bx cy" x="3041" y="1501" width="201" height="26"/><text x="3141.5" y="1514" textLength="192" lengthAdjust="spacingAndGlyphs">인터넷의 경제학 원리</text></g>
<g id="n_copy"><rect class="cy" x="2929" y="1571" width="115" height="26" rx="6"/><text class="u" x="2986.5" y="1584" textLength="104" lengthAdjust="spacingAndGlyphs">복사 비용 0</text></g>
<g id="n_zero"><rect class="bx cy" x="2744" y="1566" width="134" height="27"/><text x="2811" y="1579.5" textLength="125" lengthAdjust="spacingAndGlyphs">제로의 감수성</text></g>
<g id="n_war"><rect class="cy" x="2664" y="1641" width="275" height="26" rx="6"/><text class="u" x="2801.5" y="1654" textLength="264" lengthAdjust="spacingAndGlyphs">소유권 대 정보 접근권의 전쟁</text></g>
<g id="n_still"><rect class="bx cy" x="2761" y="1730" width="281" height="48"/><text class="two" x="2897.5" y="1742" textLength="211" lengthAdjust="spacingAndGlyphs">아직은 기존 산업시대의</text><text class="two" x="2901" y="1766" textLength="272" lengthAdjust="spacingAndGlyphs">패러다임에 기초한 지적재산권</text></g>
<g id="n_law"><rect class="cy" x="2225" y="1702" width="249" height="28" rx="6"/><text class="u" x="2349.5" y="1716" textLength="238" lengthAdjust="spacingAndGlyphs">법과 제도는 구시대적이다.</text></g>
<g id="n_example"><rect class="cy" x="2145" y="1731" width="50" height="26" rx="6"/><text class="u" x="2170" y="1744" textLength="39" lengthAdjust="spacingAndGlyphs">예시</text></g>
<g id="g_bus"><rect class="grp cy" x="1677" y="1853" width="650" height="574" rx="8"/>
<g id="n_busapp"><rect class="bx pa" x="1958" y="1867" width="95" height="26"/><text x="2005.5" y="1880" textLength="86" lengthAdjust="spacingAndGlyphs">버스 어플</text></g>
<g id="n_userinno"><rect class="pa" x="1881" y="1939" width="249" height="26" rx="6"/><text class="u" x="2005.5" y="1952" textLength="238" lengthAdjust="spacingAndGlyphs">이용자의 혁신 사례를 발견</text></g>
<g id="n_transit"><rect class="bx pa" x="1925" y="2010" width="161" height="27"/><text x="2005.5" y="2023.5" textLength="152" lengthAdjust="spacingAndGlyphs">대중교통 앱 만듦</text></g>
<g id="n_lawrigid"><rect class="pa" x="1758" y="2109" width="491" height="27" rx="6"/><text class="u" x="2003.5" y="2122.5" textLength="480" lengthAdjust="spacingAndGlyphs">법과 제도는 산업시대의 굳은 사고방식으로 대응한다.</text></g>
<g id="n_stop"><rect class="bx pa" x="1692" y="2207" width="620" height="26"/><text x="2002" y="2220" textLength="611" lengthAdjust="spacingAndGlyphs">버스정보시스템을 무단으로 이용했다고 경기도청이 서비스 강제중단</text></g>
<g id="n_backlash"><rect class="pa" x="1696" y="2296" width="603" height="27" rx="6"/><text class="u" x="1997.5" y="2309.5" textLength="592" lengthAdjust="spacingAndGlyphs">이러한 법과 제도의 제재는 결국 많은 사람들의 '반발'을 일으켰다.</text></g>
<g id="n_accept"><rect class="bx pa" x="1729" y="2386" width="529" height="27"/><text x="1993.5" y="2399.5" textLength="520" lengthAdjust="spacingAndGlyphs">결굴 관청은 민원을 수락하고 다시 사용할 수 있게 되었다.</text></g>
<use href="#col" x="2326" y="2134"/></g>
<g id="n_era"><rect class="bx cy" x="2392" y="1927" width="255" height="49"/><text class="two" x="2518.5" y="1940" textLength="247" lengthAdjust="spacingAndGlyphs">시대를 반영한 상식, 넉넉한</text><text class="two" x="2519" y="1964" textLength="198" lengthAdjust="spacingAndGlyphs">사회적 틀이 필요하다.</text></g>
<g id="n_newera"><rect class="bx cy" x="2817" y="1913" width="260" height="27"/><text x="2947" y="1926.5" textLength="251" lengthAdjust="spacingAndGlyphs">새 시대를 위한  몇가지 대안</text></g>
<g id="n_ccl"><rect class="cy" x="2809" y="1998" width="316" height="26" rx="6"/><text class="u lat" x="2967" y="2011" textLength="305" lengthAdjust="spacingAndGlyphs">Creative Commons Licences</text></g>
<g id="n_infra2"><rect class="cy" x="2433" y="2065" width="157" height="27" rx="6"/><text class="u" x="2511.5" y="2078.5" textLength="146" lengthAdjust="spacingAndGlyphs">근본적인 인프라</text></g>
<g id="n_copyright"><rect class="bx cy" x="2878" y="2079" width="207" height="26"/><text x="2981.5" y="2092" textLength="198" lengthAdjust="spacingAndGlyphs">저작권 계약을 만든 것</text></g>
<g id="n_layer"><rect class="bx cy" x="2452" y="2154" width="95" height="27"/><text x="2499.5" y="2167.5" textLength="86" lengthAdjust="spacingAndGlyphs">콘텐츠 층</text></g>
<g id="n_speedlaw"><rect class="cy" x="2776" y="2204" width="390" height="28" rx="6"/><text class="u" x="2971" y="2218" textLength="379" lengthAdjust="spacingAndGlyphs">변화의 속도에 맞는 제도를 만들어야 한다.</text></g>
<g id="n_mass"><rect class="cy" x="2344" y="2239" width="330" height="28" rx="6"/><text class="u" x="2509" y="2253" textLength="319" lengthAdjust="spacingAndGlyphs">대규모 협업을 촉진시키키 위해서는</text></g>
<g id="n_what"><rect class="bx cy" x="2327" y="2315" width="459" height="27"/><text x="2556.5" y="2328.5" textLength="450" lengthAdjust="spacingAndGlyphs">'무엇을 위하여 누구를 위하여 있는지'따져야 한다.</text></g>
<g id="n_light"><rect class="bx cy" x="2811" y="2409" width="421" height="26"/><text x="3021.5" y="2422" textLength="412" lengthAdjust="spacingAndGlyphs">빛의 속도로 변화는 사회=이것이 소셜 웹이다.</text></g>
</g>

<g id="connectors">
<path d="M369,53L297,49" marker-end="url(#ah)"/>
<path d="M535,75L601,91"/>
<path d="M168,57L160,93"/>
<path d="M151,121L143,157"/>
<path d="M271,201L209,186" marker-end="url(#ah)"/>
<path d="M486,201L602,163"/>
<path d="M368,253L233,382"/>
<path d="M727,281L757,169" marker-end="url(#ah)"/>
<path d="M653,311L599,325"/>
<path d="M532,342L497,349"/>
<path d="M401,366L247,388" marker-end="url(#ah)"/>
<path d="M445,374L365,668"/>
<path d="M813,431L601,348" marker-end="url(#ah)"/>
<path d="M604,500L562,424" marker-end="url(#ah)"/>
<path d="M547,424L447,847"/>
<path d="M685,530L931,594"/>
<path d="M481,614L306,532" marker-end="url(#ah)"/>
<path d="M531,627L885,613"/>
<path d="M377,697L444,755"/>
<path d="M520,755L757,681" marker-end="url(#ah)"/>
<path d="M532,780L697,805" marker-end="url(#ah)"/>
<path d="M839,461C760,550 660,690 580,770C540,810 470,845 410,858" marker-end="url(#ah)"/>
<path d="M812,730L812,681" marker-end="url(#ah)"/>
<path d="M812,806L812,756"/>
<path d="M895,359L864,432"/>
<path d="M871,460L983,594"/>
<path d="M921,460C1100,510 1300,580 1400,680C1450,740 1420,820 1359,896"/>
<path d="M1144,176L1025,273"/>
<path d="M1224,151L1618,78" marker-end="url(#ah)"/>
<path d="M1106,405L1020,300" marker-end="url(#ah)"/>
<path d="M1200,405L1825,270"/>
<path d="M1111,433L1009,594"/>
<path d="M1124,723L1014,621" marker-end="url(#ah)"/>
<path d="M1171,775L1234,890"/>
<path d="M1522,147L1543,137"/>
<path d="M1655,129C1720,125 1780,190 1832,251"/>
<path d="M1430,200C1445,280 1445,360 1401,443"/>
<path d="M1394,462L1289,890"/>
<path d="M1710,346C1705,280 1640,240 1518,201" marker-end="url(#ah)"/>
<path d="M1731,346L1825,281"/>
<path d="M2356,14L1881,47" marker-end="url(#ah)"/>
<path d="M1948,70L1881,66" marker-end="url(#ah)"/>
<path d="M2098,88L2091,125"/>
<path d="M2423,21L2466,353"/>
<path d="M1863,254L1910,224"/>
<path d="M1945,204L1973,175" marker-end="url(#ah)"/>
<path d="M1863,266L2003,261"/>
<path d="M2106,247L2163,219" marker-end="url(#ah)"/>
<path d="M1863,272L2124,331"/>
<path d="M2233,348L2343,358" marker-end="url(#ah)"/>
<path d="M1863,281L1974,357"/>
<path d="M1966,377L1786,466"/>
<path d="M1836,281C1760,480 1620,820 1470,1060C1390,1190 1250,1280 1129,1344"/>
<path d="M1503,735L1596,558" marker-end="url(#ah)"/>
<path d="M1736,557L1760,582"/>
<path d="M1770,602L1730,719"/>
<path d="M1762,719L2073,558"/>
<path d="M1770,722L2170,572"/>
<path d="M2115,539L2170,502" marker-end="url(#ah)"/>
<path d="M2244,553L2341,530" marker-end="url(#ah)"/>
<path d="M1770,728L2038,686"/>
<path d="M1770,737L2030,739"/>
<path d="M2079,683L2143,687" marker-end="url(#ah)"/>
<path d="M2070,738L2127,739" marker-end="url(#ah)"/>
<path d="M1551,455L1562,455"/>
<path d="M1665,455L1710,454" marker-end="url(#ah)"/>
<path d="M1552,517L1571,516"/>
<path d="M1672,515L1714,514" marker-end="url(#ah)"/>
<path d="M1543,777L1651,822"/>
<path d="M1462,782L1347,892"/>
<path d="M1706,828L2415,800"/>
<path d="M2470,788L2440,745" marker-end="url(#ah)"/>
<path d="M2480,788L2482,688" marker-end="url(#ah)"/>
<path d="M2489,788L2520,745" marker-end="url(#ah)"/>
<path d="M1705,838L2076,938"/>
<path d="M1706,843L2085,992"/>
<path d="M2176,952L2272,957" marker-end="url(#ah)"/>
<path d="M2150,1006L2482,1047" marker-end="url(#ah)"/>
<path d="M1454,965L1598,972"/>
<path d="M1728,984L1842,1000" marker-end="url(#ah)"/>
<path d="M1407,1014L1583,1084"/>
<path d="M1705,1110L2291,1146" marker-end="url(#ah)"/>
<path d="M1697,1125L1913,1182" marker-end="url(#ah)"/>
<path d="M1983,1209L2028,1317"/>
<path d="M2038,1343L2041,1397"/>
<path d="M2132,1400L2221,1391"/>
<path d="M2290,1370L2328,1308" marker-end="url(#ah)"/>
<path d="M1671,1332L1909,1414"/>
<path d="M2167,1437L2133,1512"/>
<path d="M2133,1538L2161,1616"/>
<path d="M2336,1578L1950,1545" marker-end="url(#ah)"/>
<path d="M2356,1570L1976,1437"/>
<path d="M2369,1570L2079,1424" marker-end="url(#ah)"/>
<path d="M1454,1197L1694,1505"/>
<path d="M1451,1198L1600,1305"/>
<path d="M1732,1553L1786,1627"/>
<path d="M1825,1655L2131,1853"/>
<path d="M2167,1644L2169,1731"/>
<path d="M2152,1757L2026,1867"/>
<path d="M2239,1853L2335,1730"/>
<path d="M2361,1730L2500,1927"/>
<path d="M2411,1596L2513,1927"/>
<path d="M2432,1596L2923,1913"/>
<path d="M2519,1976L2514,2065"/>
<path d="M2327,1978L2450,2065"/>
<path d="M2510,2092L2998,2409"/>
<path d="M2510,2092L2502,2154"/>
<path d="M2502,2181L2508,2239"/>
<path d="M2521,2267L2547,2315"/>
<path d="M2524,2239C2640,2100 2690,1950 2670,1800C2650,1600 2560,1380 2487,1174" marker-end="url(#ah)"/>
<path d="M2710,1667C2722,1800 2725,2000 2640,2170Q2600,2250 2564,2315"/>
<path d="M2669,1313L2708,1641"/>
<path d="M2676,1313L2804,1566"/>
<path d="M2501,1172L2645,1287"/>
<path d="M2722,1284L2789,1266" marker-end="url(#ah)"/>
<path d="M2839,1267L2885,1323"/>
<path d="M2857,1267L3030,1327"/>
<path d="M2901,1350L2902,1426"/>
<path d="M3079,1353L3073,1426"/>
<path d="M2878,1582L2929,1583"/>
<path d="M3025,1571L3107,1529" marker-end="url(#ah)"/>
<path d="M2804,1593L2805,1641"/>
<path d="M2819,1667L2874,1730"/>
<path d="M2951,1940L2963,1998"/>
<path d="M2970,2024L2979,2079"/>
<path d="M2981,2105L2974,2204"/>
<path d="M2977,2232L3018,2409"/>
<path d="M2006,1893L2006,1939"/>
<path d="M2006,1965L2006,2010"/>
<path d="M2006,2037L2004,2109"/>
<path d="M2004,2136L2003,2207"/>
<path d="M2002,2233L2000,2296"/>
<path d="M1997,2323L1995,2386"/>
<path d="M1511,1983L1643,1792" marker-end="url(#ah)"/>
<path d="M1365,1686L1284,1582"/>
<path d="M1370,1713L1289,1872"/>
<path d="M1383,1713L1425,1872"/>
<path d="M1284,1900L1289,1931"/>
<path d="M1439,1900L1489,1983"/>
<path d="M1277,1958L1179,2076"/>
<path d="M1498,2009L1490,2120"/>
<path d="M1156,1944L971,1944" marker-end="url(#ah)"/>
<path d="M1195,1958L760,2039" marker-end="url(#ah)"/>
<path d="M1437,1465L1202,1858"/>
<path d="M1469,1438L1604,1333" marker-end="url(#ah)"/>
<path d="M1399,1199L1279,1556"/>
<path d="M1348,1188L926,1311" marker-end="url(#ah)"/>
<path d="M1320,1031L1394,1144"/>
<path d="M1417,1144L1331,1033" marker-end="url(#ah)"/>
<path d="M1274,1032C1240,1110 1240,1200 1275,1250Q1300,1290 1328,1324"/>
<path d="M1187,1349L1295,1342" marker-end="url(#ah)"/>
<path d="M1064,1371L987,1426"/>
<path d="M987,1452L1093,1519"/>
<path d="M1124,1519L1321,1352" marker-end="url(#ah)"/>
<path d="M920,1646L957,1453" marker-end="url(#ah)"/>
<path d="M837,1360L912,1646"/>
<path d="M818,1360L722,1619"/>
<path d="M279,1426C500,1432 640,1450 730,1510C800,1560 860,1610 899,1646"/>
<path d="M721,1645L737,1711"/>
<path d="M912,1674L884,1784"/>
<path d="M1162,1020L1111,1050"/>
<path d="M999,1064L813,1046" marker-end="url(#ah)"/>
<path d="M1038,1099L952,1181"/>
<path d="M808,1031L851,989"/>
<path d="M875,962L877,922" marker-end="url(#ah)"/>
<path d="M687,1155L837,1181"/>
<path d="M619,1147L255,1136"/>
<path d="M633,1133L345,889" marker-end="url(#ah)"/>
<path d="M641,1133L513,956" marker-end="url(#ah)"/>
<path d="M619,1136L298,1000" marker-end="url(#ah)"/>
<path d="M405,1013L359,1213"/>
<path d="M223,1147L225,1215"/>
<path d="M208,1243L174,1280"/>
<path d="M370,1240L404,1280"/>
<path d="M426,1307L484,1467"/>
<path d="M473,1494L404,1580"/>
<path d="M494,1494L520,1578"/>
<path d="M374,1607L335,1649"/>
<path d="M529,1604L532,1652"/>
<path d="M319,1678L321,1740"/>
<path d="M539,1679L553,1737"/>
<path d="M309,1649L208,1449" marker-end="url(#ah)"/>
<path d="M249,1655L156,1622" marker-end="url(#ah)"/>
<path d="M668,2067L672,2150"/>
<path d="M654,2177L602,2227"/>
<path d="M702,2177L778,2227"/>
<path d="M839,2240L990,2239"/>
<path d="M1106,2248L1180,2263" marker-end="url(#ah)"/>
<path d="M1250,2293L1265,2419"/>
<path d="M1184,2446L1033,2478" marker-end="url(#ah)"/>
<path d="M1305,2445L1407,2498"/>
<path d="M823,2253L897,2319"/>
<path d="M586,2253L589,2317"/>
<path d="M592,2343L596,2409"/>
<path d="M856,2345L656,2407" marker-end="url(#ah)"/>
<path d="M595,2433L592,2508"/>
<path d="M638,2526L722,2538" marker-end="url(#ah)"/>
<path d="M1017,2161L791,2536"/>
</g>
</svg>
